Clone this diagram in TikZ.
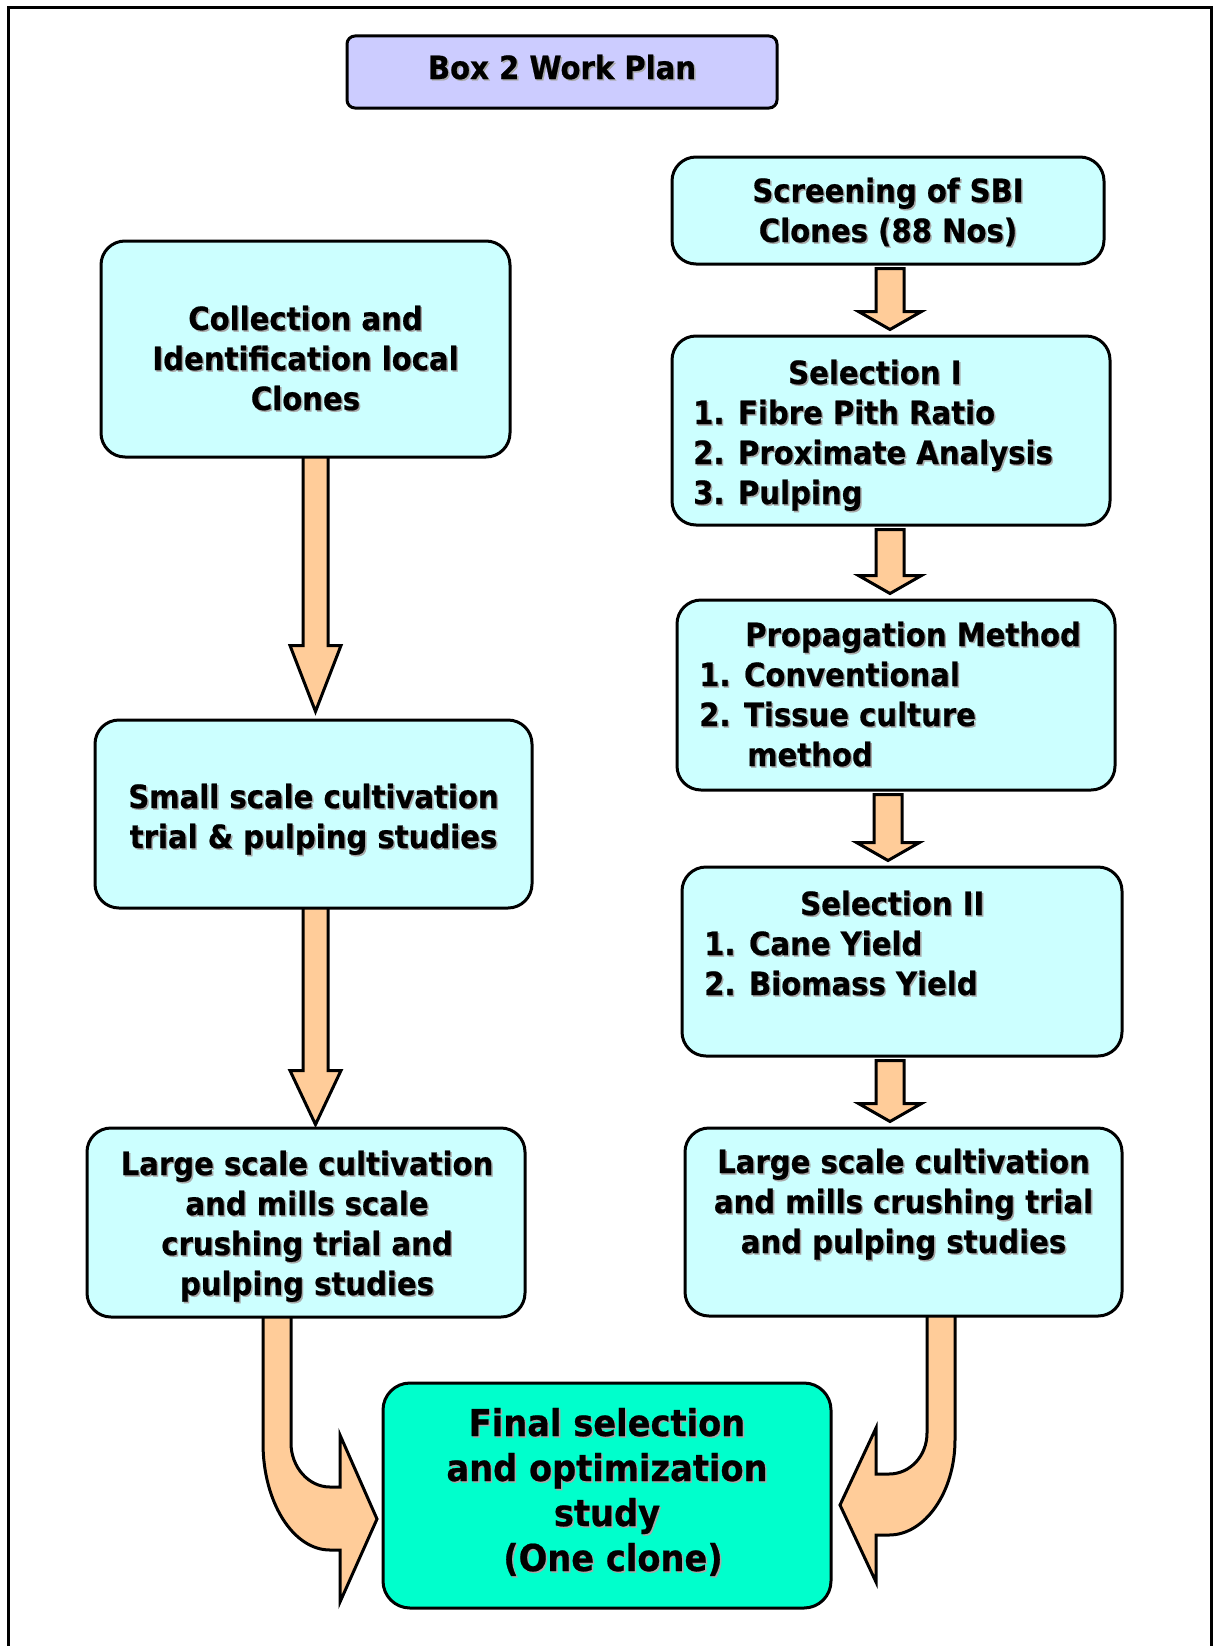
\documentclass[tikz,border=0pt]{standalone}
\usepackage{fontspec}
\newfontfamily\tah{DejaVu Sans}[FakeStretch=0.91, BoldFeatures={FakeBold=0.6}]
\usetikzlibrary{calc}
\pgfdeclarelayer{background}
\pgfsetlayers{background,main}
\definecolor{cyanbox}{HTML}{CCFFFF}
\definecolor{titlebox}{HTML}{CCCCFF}
\definecolor{finalbox}{HTML}{00FFCC}
\definecolor{arrowfill}{HTML}{FFCC99}
\definecolor{shadowc}{HTML}{A8A8A8}
\newcommand\sh[1]{\rlap{\kern1.5pt\raisebox{-1.5pt}{\color{shadowc}#1}}#1}
\newcommand\txtblock[2]{\begin{tabular}[t]{@{}#1@{}}#2\end{tabular}}
\newcommand\fatdown[8]{%
  \draw[fatarrow] let \p1=(#1.south), \p2=(#2.north) in
    ({#3pt-#7pt},{\y1-#4pt}) -- ({#3pt+#7pt},{\y1-#4pt})
    -- ({#3pt+#7pt},{\y2+#5pt+#6pt}) -- ({#3pt+#8pt},{\y2+#5pt+#6pt})
    -- ({#3pt},{\y2+#5pt}) -- ({#3pt-#8pt},{\y2+#5pt+#6pt})
    -- ({#3pt-#7pt},{\y2+#5pt+#6pt}) -- cycle;}
\tikzset{
  cbox/.style={draw=black, line width=3pt, fill=cyanbox, rounded corners=24pt, inner sep=0pt},
  txt/.style={inner sep=0pt, anchor=base, font=\tah\bfseries\fontsize{32}{40}\selectfont},
  fatarrow/.style={draw=black, line width=3pt, fill=arrowfill, line join=miter},
}
\begin{document}
\begin{tikzpicture}[x=1pt, y=-1pt]
\useasboundingbox (0,0) rectangle (1213,1646);
\draw[line width=3pt] (8.5,1646) -- (8.5,7.5) -- (1211,7.5) -- (1211,1646);

% boxes
\node[cbox, fill=titlebox, rounded corners=8pt, minimum width=430pt, minimum height=72pt] (title) at (562,72) {};
\node[cbox, minimum width=432pt, minimum height=107pt] (scr) at (888,210.5) {};
\node[cbox, minimum width=409pt, minimum height=216pt] (col) at (305.5,349) {};
\node[cbox, minimum width=438pt, minimum height=189pt] (sel1) at (891,430.5) {};
\node[cbox, minimum width=438pt, minimum height=190pt] (prop) at (896,695) {};
\node[cbox, minimum width=437pt, minimum height=188pt] (small) at (313.5,814) {};
\node[cbox, minimum width=440pt, minimum height=189pt] (sel2) at (902,961.5) {};
\node[cbox, minimum width=438pt, minimum height=189pt] (ll) at (306,1222.5) {};
\node[cbox, minimum width=437pt, minimum height=188pt] (lr) at (903.5,1222) {};
\node[cbox, fill=finalbox, rounded corners=27pt, minimum width=448pt, minimum height=225pt] (fin) at (607,1495.5) {};

% texts
\node[txt] (title-t) at (562,79) {\sh{Box 2 Work Plan}};
\node[txt] (scr-t) at (888,202) {\txtblock{c}{\sh{Screening of SBI}\\\sh{Clones (88 Nos)}}};
\node[txt] (col-t) at (305.5,330) {\txtblock{c}{\sh{Collection and}\\\sh{Identification local}\\\sh{Clones}}};
\node[txt, anchor=base west] (sel1-t) at (693,384) {\txtblock{l}{\hspace*{95pt}\sh{Selection I}\\\sh{1. Fibre Pith Ratio}\\\sh{2. Proximate Analysis}\\\sh{3. Pulping}}};
\node[txt, anchor=base west] (prop-t) at (699,646) {\txtblock{l}{\hspace*{46pt}\sh{Propagation Method}\\\sh{1. Conventional}\\\sh{2. Tissue culture}\\\hspace*{48pt}\sh{method}}};
\node[txt, anchor=base west] (sel2-t) at (704,915) {\txtblock{l}{\hspace*{96pt}\sh{Selection II}\\\sh{1. Cane Yield}\\\sh{2. Biomass Yield}}};
\node[txt] (small-t) at (313.5,808) {\txtblock{c}{\sh{Small scale cultivation}\\\sh{trial \& pulping studies}}};
\node[txt] (ll-t) at (307,1175) {\txtblock{c}{\sh{Large scale cultivation}\\\sh{and mills scale}\\\sh{crushing trial and}\\\sh{pulping studies}}};
\node[txt] (lr-t) at (903.5,1173) {\txtblock{c}{\sh{Large scale cultivation}\\\sh{and mills crushing trial}\\\sh{and pulping studies}}};
\node[txt, font=\tah\bfseries\fontsize{37}{45}\selectfont] (fin-t) at (607,1436) {\txtblock{c}{\sh{Final selection}\\\sh{and optimization}\\\sh{study}\\\hspace*{12pt}\sh{(One clone)}}};

% arrows
\begin{pgfonlayer}{background}
\fatdown{col}{small}{315.5}{-4}{7}{66}{12.5}{25.5}
\fatdown{small}{ll}{315.5}{-4}{2}{54}{12.5}{25.5}
\fatdown{scr}{sel1}{890}{3}{5}{18}{14}{31.5}
\fatdown{sel1}{prop}{890}{3}{5}{18}{14}{31.5}
\fatdown{prop}{sel2}{888}{3}{5}{18}{14}{31.5}
\fatdown{sel2}{lr}{890}{3}{5}{18}{14}{31.5}
\draw[fatarrow] (263,1310) -- (263,1443) .. controls (263,1502) and (293,1550) .. (330,1550)
  -- (340,1550) -- (340,1602) -- (377,1519) -- (340,1435) -- (340,1487) -- (330,1487)
  .. controls (308.5,1487) and (291,1467) .. (291,1443) -- (291,1310) -- cycle;
\draw[fatarrow] (955,1310) -- (955,1440) .. controls (955,1492) and (925,1535) .. (889,1535)
  -- (876,1535) -- (876,1582) -- (840,1505) -- (876,1428) -- (876,1474) -- (889,1474)
  .. controls (910,1474) and (927,1456) .. (927,1433) -- (927,1310) -- cycle;
\end{pgfonlayer}
\end{tikzpicture}
\end{document}
